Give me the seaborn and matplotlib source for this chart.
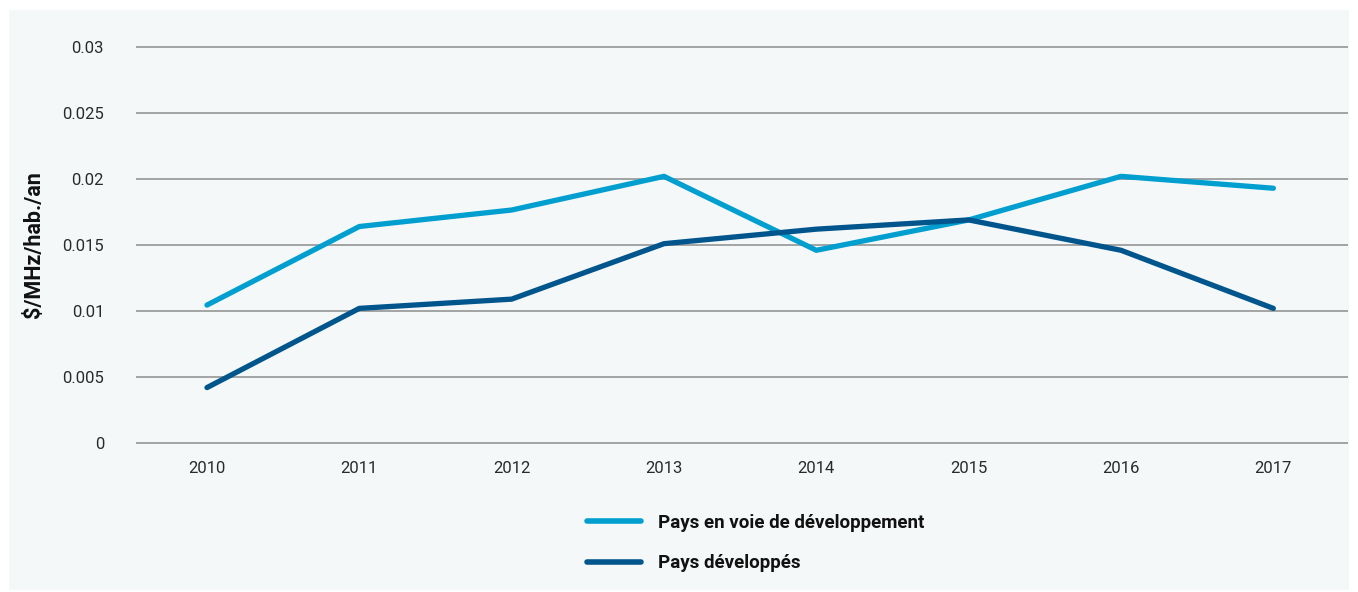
import matplotlib
matplotlib.use("Agg")
import matplotlib.pyplot as plt
from matplotlib.patches import Rectangle
import seaborn as sns
import pandas as pd

years = [2010, 2011, 2012, 2013, 2014, 2015, 2016, 2017]
developing = [0.01045, 0.0164, 0.01765, 0.0202, 0.0146, 0.0169, 0.0202, 0.0193]
developed = [0.0042, 0.0102, 0.0109, 0.0151, 0.0162, 0.0169, 0.0146, 0.0102]
series_names = ["Pays en voie de développement", "Pays développés"]
y_ticks = [0, 0.005, 0.01, 0.015, 0.02, 0.025, 0.03]
y_tick_labels = ["0", "0.005", "0.01", "0.015", "0.02", "0.025", "0.03"]

df = pd.DataFrame({
    "year": years * 2,
    "value": developing + developed,
    "series": [series_names[0]] * len(years) + [series_names[1]] * len(years),
})

sns.set_theme(style="white")
plt.rcParams["font.family"] = ["Roboto", "DejaVu Sans"]

bg = "#f4f8f9"
fig = plt.figure(figsize=(13.58, 5.92), dpi=100, facecolor="white")
fig.patches.append(Rectangle((9 / 1358, 2 / 592), 1340 / 1358, 580 / 592,
                             transform=fig.transFigure, facecolor=bg,
                             edgecolor="none", zorder=-10))

ax = fig.add_axes([136 / 1358, 145 / 592, 1212 / 1358, 404 / 592])
ax.set_zorder(1)
ax.set_facecolor(bg)

palette = {series_names[0]: "#009fd0", series_names[1]: "#00558c"}
sns.lineplot(data=df, x="year", y="value", hue="series", palette=palette,
             linewidth=3.8, ax=ax, legend=True)
for line in ax.lines:
    line.set_solid_capstyle("round")
    line.set_solid_joinstyle("round")

ax.set_xlim(2009.534, 2017.49)
ax.set_ylim(-0.0003, 0.0303)
ax.set_yticks(y_ticks)
ax.set_yticklabels(y_tick_labels)
ax.set_xticks(years)
ax.set_xticklabels([str(y) for y in years])
ax.yaxis.grid(True, color="#8c8c8c", linewidth=1.1)
ax.xaxis.grid(False)
ax.set_axisbelow(True)
for s in ax.spines.values():
    s.set_visible(False)
ax.tick_params(axis="both", length=0, labelsize=12, labelcolor="#2a2a2a")
ax.tick_params(axis="y", pad=23)
ax.tick_params(axis="x", pad=10)
ax.set_xlabel("")
ax.set_ylabel("\\$/MHz/hab./an", fontsize=15.5, fontweight="bold", color="#111111",
              labelpad=0)
ax.yaxis.set_label_coords((45 - 136) / 1212, 0.5)

handles, labels = ax.get_legend_handles_labels()
leg = ax.legend(handles, labels, loc="upper left",
                bbox_to_anchor=(587 / 1358, (592 - 514) / 592),
                bbox_transform=fig.transFigure, frameon=False,
                prop={"weight": "bold", "size": 13.5}, handlelength=2.9,
                handletextpad=0.9, labelspacing=1.2, borderpad=0,
                borderaxespad=0)
for h in leg.get_lines():
    h.set_linewidth(4)
    h.set_solid_capstyle("round")
for t in leg.get_texts():
    t.set_color("#111111")

fig.savefig("out.png", dpi=100, facecolor="white")
